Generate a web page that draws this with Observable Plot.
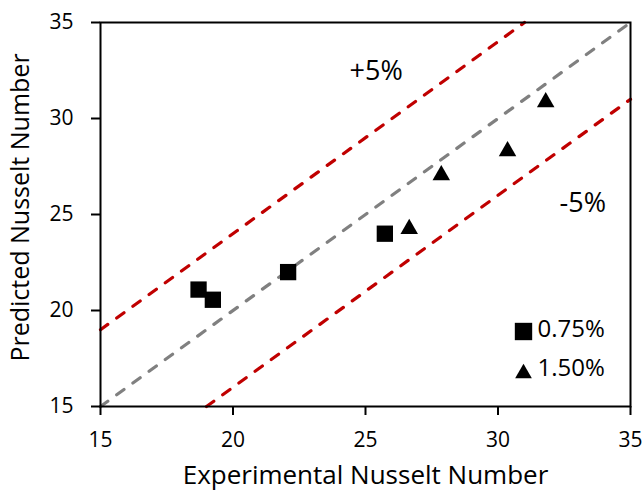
<!DOCTYPE html>
<html><head><meta charset="utf-8">
<script src="https://cdn.jsdelivr.net/npm/d3@7"></script>
<script src="https://cdn.jsdelivr.net/npm/@observablehq/plot@0.6"></script>
<style>body{margin:0;background:#fff;} svg{display:block;}</style>
</head><body><div id="chart"></div>
<script>
const xLabel = "Experimental Nusselt Number";
const yLabel = "Predicted Nusselt Number";
const ticks = [15, 20, 25, 30, 35];
// 0.75% series
const sqX = [18.7, 19.24, 22.08, 25.73];
const sqY = [21.09, 20.56, 22.0, 24.0];
// 1.50% series
const trX = [26.65, 27.86, 30.36, 31.8];
const trY = [24.25, 27.05, 28.3, 30.85];
// reference lines
const parity = [{x: 15, y: 15}, {x: 35, y: 35}];
const upper = [{x: 15, y: 19}, {x: 31, y: 35}];
const lower = [{x: 19, y: 15}, {x: 35, y: 31}];
const bandLabels = [{x: 25.4, y: 32.45, t: "+5%"}, {x: 33.2, y: 25.6, t: "-5%"}];
const legendNames = ["0.75%", "1.50%"];

const squares = sqX.map((x, i) => ({x, y: sqY[i]}));
const triangles = trX.map((x, i) => ({x, y: trY[i]}));
const font = "'Open Sans', sans-serif";
const dash = {strokeWidth: 3.2, strokeDasharray: "9,11", strokeLinecap: "round"};

const chart = Plot.plot({
  width: 644, height: 498,
  marginLeft: 100, marginRight: 14, marginTop: 22, marginBottom: 92,
  style: {fontFamily: font, fontSize: "21px", background: "#fff", color: "#000"},
  x: {domain: [15, 35]},
  y: {domain: [15, 35]},
  marks: [
    Plot.line(upper, {x: "x", y: "y", stroke: "#C00000", ...dash}),
    Plot.line(parity, {x: "x", y: "y", stroke: "#808080", ...dash}),
    Plot.line(lower, {x: "x", y: "y", stroke: "#C00000", ...dash}),
    Plot.dot(squares, {x: "x", y: "y", symbol: "square", r: 9.2, fill: "#000", stroke: "none"}),
    Plot.dot(triangles, {x: "x", y: "y", symbol: "triangle", r: 6.5, fill: "#000", stroke: "none"}),
    Plot.text(bandLabels, {x: "x", y: "y", text: "t", fontSize: 27, fill: "#000"}),
    // legend
    Plot.dot([legendNames[0]], {frameAnchor: "bottom-right", dx: -107, dy: -75, symbol: "square", r: 9.8, fill: "#000", stroke: "none"}),
    Plot.dot([legendNames[1]], {frameAnchor: "bottom-right", dx: -107, dy: -33, symbol: "triangle", r: 6.2, fill: "#000", stroke: "none"}),
    Plot.text([legendNames[0]], {frameAnchor: "bottom-right", dx: -93, dy: -70, text: d => d, textAnchor: "start", fontSize: 24, fill: "#000"}),
    Plot.text([legendNames[1]], {frameAnchor: "bottom-right", dx: -93, dy: -31, text: d => d, textAnchor: "start", fontSize: 24, fill: "#000"}),
    Plot.frame({stroke: "#000", strokeWidth: 2}),
    Plot.axisX({ticks, tickSize: 9, tickPadding: 17, strokeWidth: 2, label: null}),
    Plot.axisY({ticks, tickSize: 9, tickPadding: 18, strokeWidth: 2, label: null}),
    Plot.text([xLabel], {frameAnchor: "bottom", dy: 77, text: d => d, fontSize: 26, fill: "#000"}),
    Plot.text([yLabel], {frameAnchor: "left", dx: -80, dy: -7, rotate: -90, textAnchor: "middle", text: d => d, fontSize: 25, fill: "#000"})
  ]
});
document.getElementById("chart").append(chart);
</script>
</body></html>
